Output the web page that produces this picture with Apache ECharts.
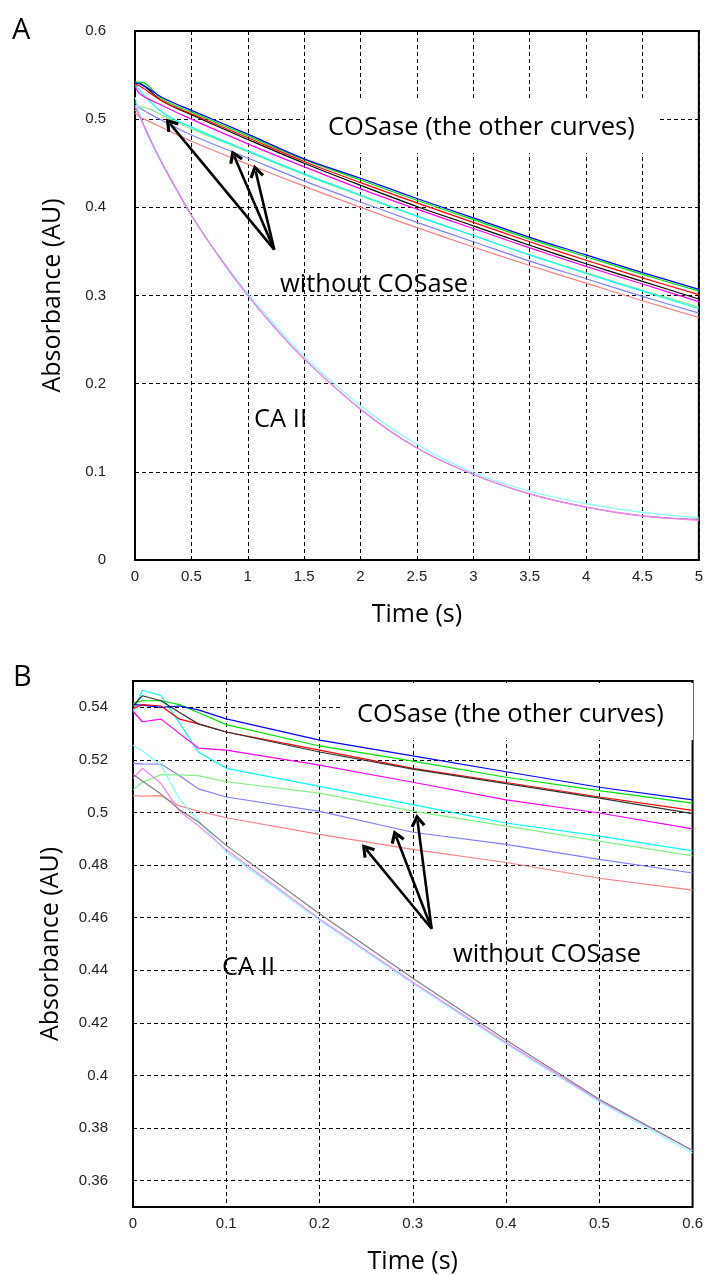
<!DOCTYPE html>
<html>
<head>
<meta charset="utf-8">
<script src="https://cdn.jsdelivr.net/npm/echarts@6/dist/echarts.min.js"></script>
<style>
  html, body { margin: 0; padding: 0; background: #fff; }
  #main { width: 706px; height: 1275px; }
</style>
</head>
<body>
<div id="main"></div>
<script>
// ---- panel A (0 - 5 s) ----
const timeA = [0, 0.05, 0.25, 0.5, 1, 1.5, 2, 2.5, 3, 3.5, 4, 4.5, 5];
const aBlue   = [0.541, 0.540, 0.524, 0.510, 0.483, 0.455, 0.433, 0.410, 0.388, 0.366, 0.346, 0.326, 0.307];
const aGreen  = [0.542, 0.542, 0.522, 0.508, 0.481, 0.454, 0.431, 0.408, 0.386, 0.364, 0.344, 0.324, 0.305];
const aRed    = [0.540, 0.537, 0.520, 0.506, 0.479, 0.452, 0.428, 0.405, 0.383, 0.361, 0.340, 0.320, 0.301];
const aBlack  = [0.541, 0.540, 0.520, 0.505, 0.477, 0.450, 0.425, 0.401, 0.379, 0.357, 0.336, 0.316, 0.296];
const aMag    = [0.538, 0.528, 0.515, 0.500, 0.472, 0.446, 0.421, 0.398, 0.376, 0.354, 0.333, 0.313, 0.293];
const aCyan   = [0.540, 0.531, 0.507, 0.491, 0.464, 0.438, 0.414, 0.390, 0.368, 0.346, 0.325, 0.305, 0.285];
const aLGreen = [0.509, 0.514, 0.504, 0.489, 0.463, 0.437, 0.413, 0.390, 0.368, 0.346, 0.326, 0.306, 0.287];
const aLBlue  = [0.519, 0.512, 0.498, 0.482, 0.456, 0.430, 0.406, 0.383, 0.361, 0.339, 0.319, 0.299, 0.280];
const aLRed   = [0.507, 0.502, 0.490, 0.475, 0.449, 0.424, 0.400, 0.377, 0.355, 0.334, 0.314, 0.294, 0.275];

const timeACa = [0, 0.1, 0.2, 0.3, 0.5, 0.75, 1, 1.25, 1.5, 2, 2.5, 3, 3.5, 4, 4.5, 5];
const aCaGray = [0.514, 0.487, 0.460, 0.436, 0.391, 0.343, 0.300, 0.262, 0.228, 0.171, 0.127, 0.097, 0.075, 0.060, 0.050, 0.046];
const aCaPink = [0.516, 0.486, 0.460, 0.436, 0.391, 0.343, 0.300, 0.262, 0.228, 0.171, 0.127, 0.097, 0.075, 0.060, 0.050, 0.045];
const aCaCyan = [0.525, 0.485, 0.459, 0.435, 0.391, 0.344, 0.302, 0.265, 0.231, 0.175, 0.131, 0.099, 0.078, 0.064, 0.054, 0.048];

// ---- panel B (0 - 0.6 s) ----
const timeB = [0, 0.01, 0.03, 0.05, 0.07, 0.1, 0.2, 0.3, 0.4, 0.5, 0.6];
const bBlue   = [0.5410, 0.5408, 0.5400, 0.5405, 0.5390, 0.5356, 0.5275, 0.5215, 0.5155, 0.5096, 0.5048];
const bGreen  = [0.5415, 0.5425, 0.5425, 0.5410, 0.5380, 0.5334, 0.5253, 0.5195, 0.5134, 0.5083, 0.5036];
const bRed    = [0.5395, 0.5410, 0.5405, 0.5355, 0.5337, 0.5306, 0.5237, 0.5168, 0.5114, 0.5059, 0.5008];
const bBlack  = [0.5405, 0.5444, 0.5425, 0.5380, 0.5337, 0.5306, 0.5230, 0.5165, 0.5110, 0.5055, 0.4996];
const bMag    = [0.5385, 0.5345, 0.5355, 0.5300, 0.5245, 0.5237, 0.5180, 0.5115, 0.5048, 0.4998, 0.4938];
const bCyan   = [0.5385, 0.5465, 0.5445, 0.5340, 0.5230, 0.5168, 0.5099, 0.5030, 0.4960, 0.4910, 0.4854];
const bLGreen = [0.5086, 0.5115, 0.5143, 0.5143, 0.5140, 0.5117, 0.5074, 0.5005, 0.4948, 0.4891, 0.4835];
const bLBlue  = [0.5187, 0.5185, 0.5184, 0.5140, 0.5090, 0.5059, 0.5004, 0.4925, 0.4879, 0.4822, 0.4770];
const bLRed   = [0.5064, 0.5062, 0.5064, 0.5025, 0.5005, 0.4980, 0.4917, 0.4860, 0.4810, 0.4750, 0.4705];
const bCaCyan = [0.5256, 0.5235, 0.5180, 0.5050, 0.4970, 0.4850, 0.4590, 0.4350, 0.4120, 0.3900, 0.3705];
const bCaPink = [0.5130, 0.5168, 0.5110, 0.5005, 0.4950, 0.4858, 0.4595, 0.4355, 0.4125, 0.3905, 0.3715];
const bCaGray = [0.5145, 0.5120, 0.5070, 0.5010, 0.4965, 0.4875, 0.4615, 0.4370, 0.4135, 0.3910, 0.3715];

const bTicks = [0.36, 0.38, 0.4, 0.42, 0.44, 0.46, 0.48, 0.5, 0.52, 0.54];

// arrows: [from, to] in data units
const arrowsA = [[[1.235, 0.352], [0.31, 0.495]], [[1.235, 0.352], [0.88, 0.458]], [[1.235, 0.352], [1.07, 0.441]]];
const arrowsB = [[[0.3202, 0.4558], [0.25, 0.486]], [[0.3202, 0.4558], [0.282, 0.491]], [[0.3202, 0.4558], [0.305, 0.497]]];

const tickFont = 'Liberation Sans Narrow, Liberation Sans, Arial, sans-serif';
const textFont = 'Open Sans, Noto Sans, sans-serif';

function pair(ts, vs) { return ts.map((t, i) => [t, vs[i]]); }

function curve(name, ts, vs, color, idx, smooth) {
  return {
    name: name, type: 'line', xAxisIndex: idx, yAxisIndex: idx,
    data: pair(ts, vs), showSymbol: false, smooth: smooth ? 0.35 : false,
    lineStyle: { color: color, width: 1.2 }, itemStyle: { color: color },
    silent: true
  };
}

function arrowLine(list) {
  return {
    silent: true, animation: false,
    symbol: ['none', 'path://M5,0 L10,8 L8.2,9.2 L5,4 L1.8,9.2 L0,8 Z'],
    symbolSize: [15, 13],
    label: { show: false },
    lineStyle: { color: '#000', width: 2.6, type: 'solid' },
    data: list.map(a => [{ coord: a[0] }, { coord: a[1] }])
  };
}

const splitStyle = { show: true, lineStyle: { color: '#000', width: 1, type: [4, 3] } };

function xAxis(idx, max, interval) {
  return {
    type: 'value', gridIndex: idx, min: 0, max: max, interval: interval,
    name: 'Time (s)', nameLocation: 'middle', nameGap: 42,
    nameTextStyle: { fontFamily: textFont, fontSize: 25, color: '#000' },
    axisLine: { show: false }, axisTick: { show: false },
    axisLabel: { fontFamily: tickFont, fontSize: 15, color: '#222', margin: 9 },
    splitLine: splitStyle
  };
}

const yAxisA = {
  type: 'value', gridIndex: 0, min: 0, max: 0.6, interval: 0.1,
  name: 'Absorbance (AU)', nameLocation: 'middle', nameGap: 70,
  nameTextStyle: { fontFamily: textFont, fontSize: 25, color: '#000' },
  axisLine: { show: false }, axisTick: { show: false },
  axisLabel: { fontFamily: tickFont, fontSize: 15, color: '#222', margin: 29 },
  splitLine: splitStyle
};

const yAxisB = {
  type: 'value', gridIndex: 1, min: 0.35, max: 0.55,
  name: 'Absorbance (AU)', nameLocation: 'middle', nameGap: 70,
  nameTextStyle: { fontFamily: textFont, fontSize: 25, color: '#000' },
  axisLine: { show: false }, axisTick: { show: false, customValues: bTicks },
  axisLabel: { fontFamily: tickFont, fontSize: 15, color: '#222', margin: 25, customValues: bTicks },
  splitLine: splitStyle
};

const seriesA = [
  curve('A light red', timeA, aLRed, '#ff8080', 0, true),
  curve('A light blue', timeA, aLBlue, '#8080ff', 0, true),
  curve('A light green', timeA, aLGreen, '#80f080', 0, true),
  curve('A cyan', timeA, aCyan, '#00ffff', 0, true),
  curve('A magenta', timeA, aMag, '#ff00ff', 0, true),
  curve('A black', timeA, aBlack, '#000000', 0, true),
  curve('A red', timeA, aRed, '#ff0000', 0, true),
  curve('A green', timeA, aGreen, '#00e000', 0, true),
  curve('A blue', timeA, aBlue, '#0000ff', 0, true),
  curve('A CA II cyan', timeACa, aCaCyan, '#80ffff', 0, true),
  curve('A CA II gray', timeACa, aCaGray, '#808080', 0, true),
  curve('A CA II pink', timeACa, aCaPink, '#ff80ff', 0, true)
];
seriesA[5].markLine = arrowLine(arrowsA);

const seriesB = [
  curve('B light red', timeB, bLRed, '#ff8080', 1, false),
  curve('B light blue', timeB, bLBlue, '#8080ff', 1, false),
  curve('B light green', timeB, bLGreen, '#80f080', 1, false),
  curve('B cyan', timeB, bCyan, '#00ffff', 1, false),
  curve('B magenta', timeB, bMag, '#ff00ff', 1, false),
  curve('B green', timeB, bGreen, '#00e000', 1, false),
  curve('B blue', timeB, bBlue, '#0000ff', 1, false),
  curve('B red', timeB, bRed, '#ff0000', 1, false),
  curve('B black', timeB, bBlack, '#333333', 1, false),
  curve('B CA II cyan', timeB, bCaCyan, '#80ffff', 1, false),
  curve('B CA II pink', timeB, bCaPink, '#ff80ff', 1, false),
  curve('B CA II gray', timeB, bCaGray, '#808080', 1, false)
];
seriesB[8].markLine = arrowLine(arrowsB);

function label(text, x, y, size) {
  return { type: 'text', z: 100, style: { text: text, x: x, y: y, font: size + 'px ' + textFont, fill: '#000', verticalAlign: 'middle' } };
}

const option = {
  animation: false,
  backgroundColor: '#fff',
  grid: [
    { left: 135, top: 31, width: 567, height: 529, show: true, borderColor: '#000', borderWidth: 2, backgroundColor: 'transparent' },
    { left: 133, top: 681, width: 562, height: 529, show: true, borderColor: '#000', borderWidth: 2, backgroundColor: 'transparent' }
  ],
  xAxis: [xAxis(0, 5, 0.5), xAxis(1, 0.6, 0.1)],
  yAxis: [yAxisA, yAxisB],
  series: seriesA.concat(seriesB),
  graphic: [
    label('A', 12, 31, 29),
    label('B', 13, 678, 29),
    { type: 'rect', z: 90, shape: { x: 305, y: 98, width: 353, height: 55 }, style: { fill: '#fff' } },
    label('COSase (the other curves)', 328, 128, 25.5),
    label('without COSase', 280, 285, 25.5),
    label('CA II', 254, 420, 25.5),
    { type: 'rect', z: 90, shape: { x: 342, y: 683, width: 351, height: 57 }, style: { fill: '#fff' } },
    label('COSase (the other curves)', 357, 715, 25.5),
    label('without COSase', 453, 955, 25.5),
    label('CA II', 222, 968, 25.5)
  ]
};

const chart = echarts.init(document.getElementById('main'));
chart.setOption(option);
</script>
</body>
</html>
